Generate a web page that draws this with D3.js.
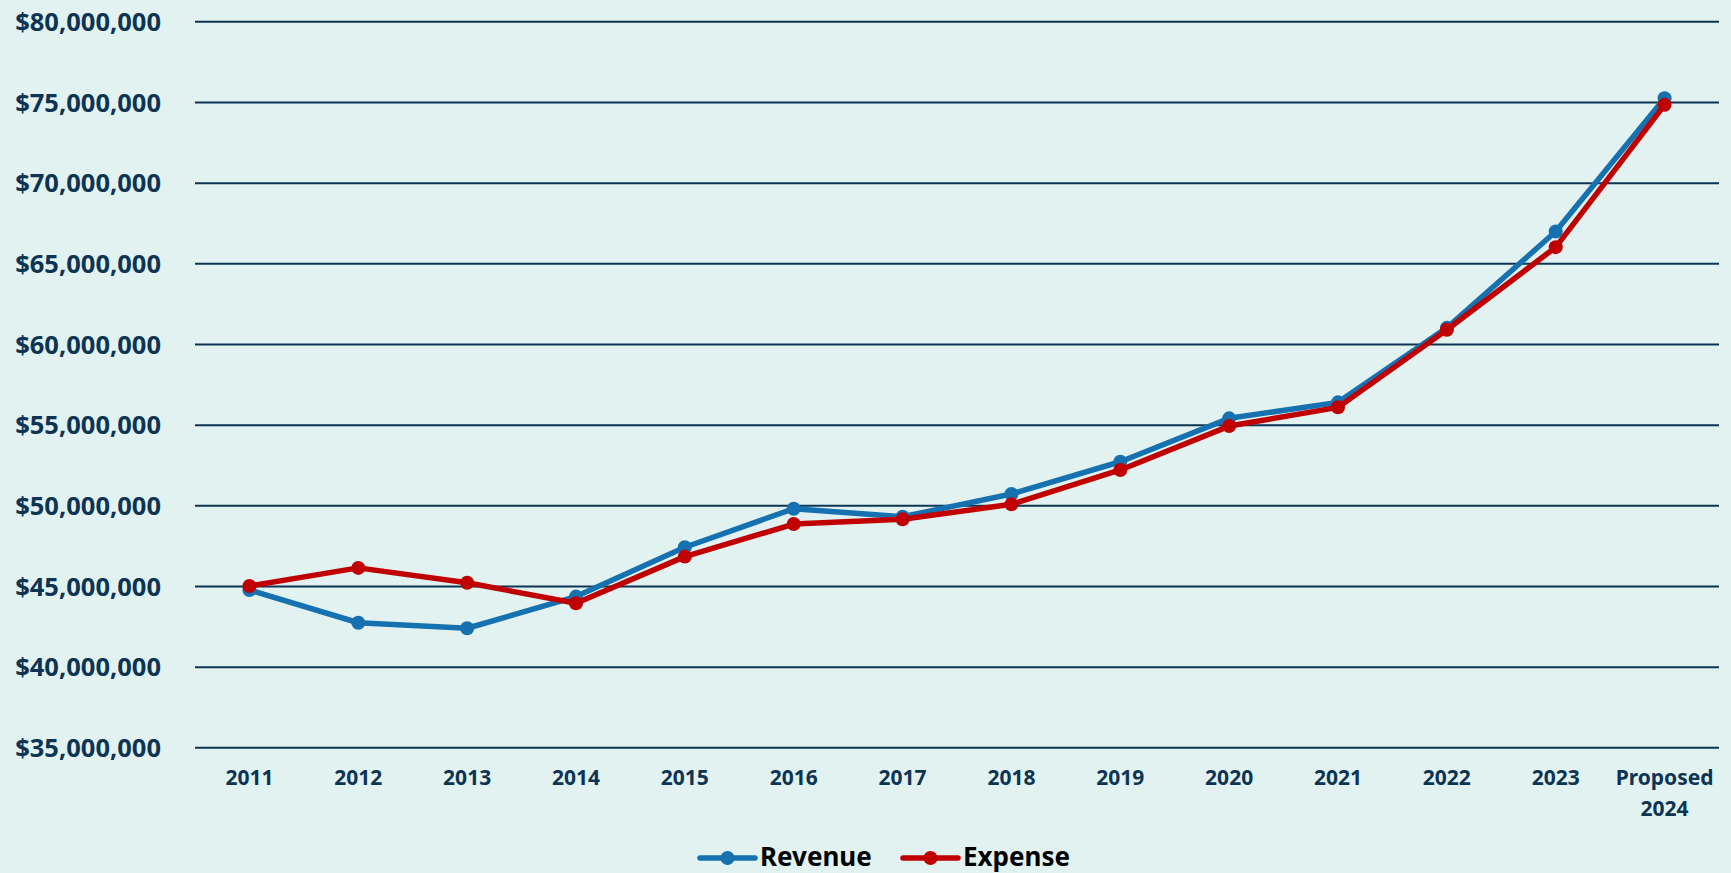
<!DOCTYPE html>
<html>
<head>
<meta charset="utf-8">
<script src="https://cdn.jsdelivr.net/npm/d3@7"></script>
<style>
  html, body { margin: 0; padding: 0; background: #e2f2f1; }
  svg { display: block; }
  text { font-family: "Noto Sans", "Open Sans", sans-serif; font-weight: 700; }
</style>
</head>
<body>
<svg id="chart"></svg>
<script>
'use strict';

const years = ['2011', '2012', '2013', '2014', '2015', '2016', '2017', '2018',
    '2019', '2020', '2021', '2022', '2023', 'Proposed 2024'];
const revenue = [44.75, 42.72, 42.38, 44.34, 47.40, 49.79, 49.29, 50.70,
    52.70, 55.39, 56.38, 61.00, 66.97, 75.23].map(d => d * 1e6);
const expense = [45.00, 46.12, 45.20, 43.93, 46.82, 48.84, 49.13, 50.06,
    52.19, 54.91, 56.07, 60.88, 66.00, 74.82].map(d => d * 1e6);
const yTicks = [35, 40, 45, 50, 55, 60, 65, 70, 75, 80].map(d => d * 1e6);
const seriesNames = ['Revenue', 'Expense'];

(function () {
    const width = 1731;
    const height = 873;
    const margin = { top: 21.3, right: 12, bottom: 125.7, left: 195 };
    const plotW = width - margin.left - margin.right;
    const plotH = height - margin.top - margin.bottom;
    const ink = '#0d3453';
    const colors = ['#1571b0', '#c00000'];

    const svg = d3.select('#chart')
        .attr('width', width)
        .attr('height', height);

    svg.append('rect')
        .attr('width', width)
        .attr('height', height)
        .attr('fill', '#e2f2f1');

    const g = svg.append('g')
        .attr('transform', 'translate(' + margin.left + ',' + margin.top + ')');

    const x = d3.scaleBand()
        .domain(years)
        .range([0, plotW])
        .padding(0);

    const y = d3.scaleLinear()
        .domain([35e6, 80e6])
        .range([plotH, 0]);

    // y axis + gridlines
    const yAxis = g.append('g')
        .call(d3.axisLeft(y)
            .tickValues(yTicks)
            .tickFormat(d3.format('$,'))
            .tickSizeInner(-plotW)
            .tickSizeOuter(0)
            .tickPadding(34));
    yAxis.select('.domain').remove();
    yAxis.selectAll('line')
        .attr('stroke', ink)
        .attr('stroke-width', 2);
    yAxis.selectAll('text')
        .attr('fill', ink)
        .attr('font-size', 25.5)
        .attr('dy', '0.36em');

    // x axis
    const xAxis = g.append('g')
        .attr('transform', 'translate(0,' + plotH + ')')
        .call(d3.axisBottom(x).tickSize(0));
    xAxis.select('.domain').remove();
    xAxis.selectAll('text')
        .attr('fill', ink)
        .attr('font-size', 21)
        .attr('y', 38)
        .attr('dy', 0)
        .each(function (d) {
            const parts = d.split(' ');
            const t = d3.select(this).text(null);
            parts.forEach((p, i) => {
                t.append('tspan')
                    .attr('x', 0)
                    .attr('dy', i === 0 ? 0 : 31)
                    .text(p);
            });
        });

    // series
    const line = d3.line()
        .x((d, i) => x(years[i]) + x.bandwidth() / 2)
        .y(d => y(d));

    [revenue, expense].forEach((series, s) => {
        g.append('path')
            .datum(series)
            .attr('fill', 'none')
            .attr('stroke', colors[s])
            .attr('stroke-width', 5.5)
            .attr('stroke-linejoin', 'round')
            .attr('d', line);

        g.selectAll('.dot-' + s)
            .data(series)
            .enter().append('circle')
            .attr('class', 'dot-' + s)
            .attr('cx', (d, i) => x(years[i]) + x.bandwidth() / 2)
            .attr('cy', d => y(d))
            .attr('r', 7)
            .attr('fill', colors[s]);
    });

    // legend
    const legend = svg.append('g')
        .attr('transform', 'translate(700,858)');
    const item = legend.selectAll('g')
        .data(seriesNames)
        .enter().append('g')
        .attr('transform', (d, i) => 'translate(' + (i * 203) + ',0)');
    item.append('line')
        .attr('x1', 0)
        .attr('x2', 55)
        .attr('stroke', (d, i) => colors[i])
        .attr('stroke-width', 5.5)
        .attr('stroke-linecap', 'round');
    item.append('circle')
        .attr('cx', 27.5)
        .attr('r', 7)
        .attr('fill', (d, i) => colors[i]);
    item.append('text')
        .attr('x', 60)
        .attr('y', 7.5)
        .attr('font-size', 26)
        .attr('fill', '#000')
        .text(d => d);
})();
</script>
</body>
</html>
